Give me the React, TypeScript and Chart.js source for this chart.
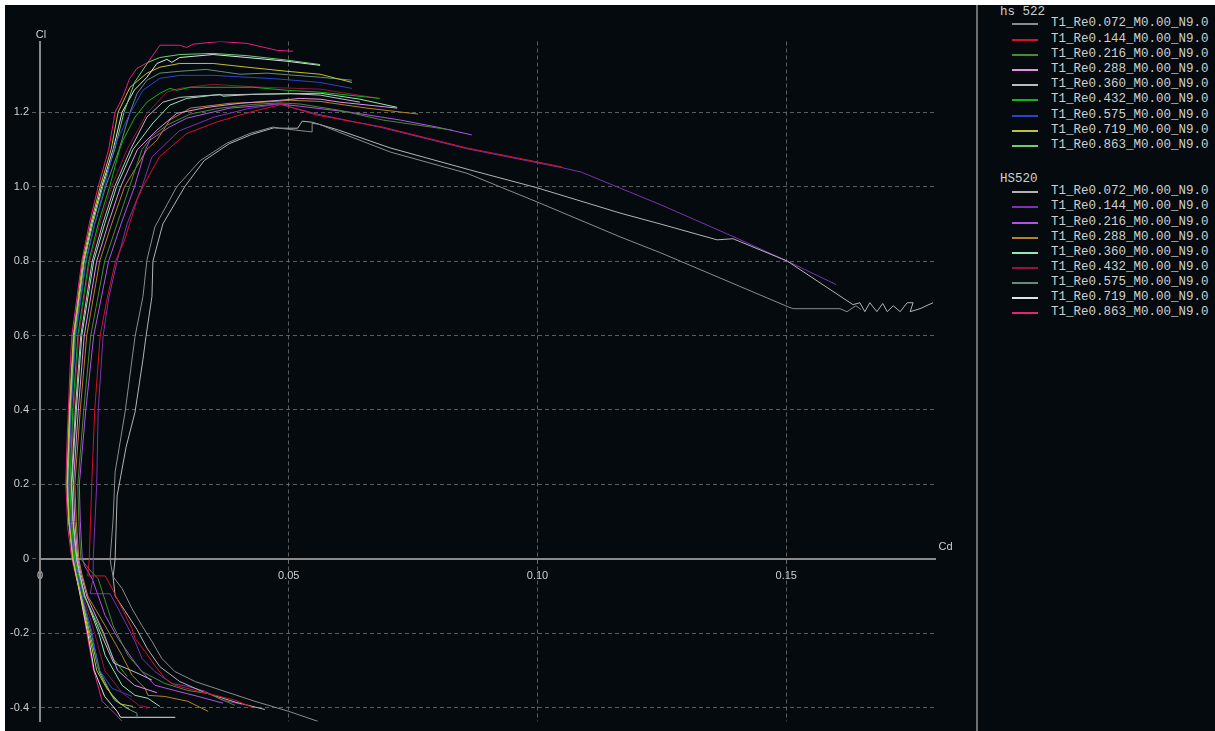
import React, { useEffect, useRef } from "react";
import { Chart, registerables } from "chart.js";

Chart.register(...registerables);

type P = [number, number];

// ---------- axis ranges & ticks ----------
const X_MIN = 0;
const X_MAX = 0.18;
const Y_MIN = -0.437;
const Y_MAX = 1.39;
const X_STEP = 0.05;
const Y_STEP = 0.2;

// ---------- legend ----------
const reynolds = ["0.072", "0.144", "0.216", "0.288", "0.360", "0.432", "0.575", "0.719", "0.863"];
const groupNames = ["hs 522", "HS520"];
const hs522Colors = ["#8c8c8c", "#d81028", "#4a8a32", "#e890e8", "#bcbcbc", "#14b414", "#2c44cc", "#c4c030", "#6cd06c"];
const hs520Colors = ["#b4b4b4", "#7a34b0", "#b452e6", "#b48424", "#90e8b4", "#96123c", "#6a8a7a", "#dce4ec", "#e6207c"];

// ---------- hs 522 polars (Cd, Cl) ----------
const hs522_Re0072: P[] = [
  [0.0559, -0.437], [0.05, -0.41], [0.0432, -0.383], [0.0366, -0.354], [0.0312, -0.33], [0.0271, -0.303],
  [0.0245, -0.268], [0.0225, -0.222], [0.0205, -0.18], [0.0185, -0.134], [0.0165, -0.08], [0.0147, -0.048],
  [0.0143, -0.02], [0.0141, 0], [0.0147, 0.107], [0.0151, 0.233], [0.0171, 0.394], [0.0191, 0.597],
  [0.0207, 0.705], [0.0215, 0.803], [0.0231, 0.892], [0.0275, 1.0], [0.0322, 1.07], [0.0376, 1.117],
  [0.0422, 1.143], [0.0468, 1.16], [0.0482, 1.157], [0.0513, 1.152], [0.0547, 1.147], [0.0547, 1.17],
  [0.056, 1.168], [0.0617, 1.138], [0.0704, 1.093], [0.0858, 1.036], [0.0999, 0.959], [0.1166, 0.865],
  [0.1246, 0.823], [0.1502, 0.678], [0.1514, 0.672], [0.1608, 0.672], [0.1622, 0.664], [0.164, 0.68], [0.165, 0.67],
];
const hs522_Re0144: P[] = [
  [0.0426, -0.399], [0.0392, -0.38], [0.0338, -0.362], [0.0312, -0.354], [0.0271, -0.34], [0.0251, -0.321],
  [0.0231, -0.287], [0.0211, -0.249], [0.0191, -0.214], [0.0185, -0.188], [0.0165, -0.134], [0.0145, -0.08],
  [0.0131, -0.046], [0.0096, -0.046], [0.0099, 0], [0.0104, 0.2], [0.011, 0.4], [0.0121, 0.6], [0.0135, 0.7],
  [0.0152, 0.8], [0.017, 0.857], [0.0195, 0.964], [0.0207, 1.0], [0.024, 1.08], [0.0295, 1.143],
  [0.0356, 1.174], [0.0422, 1.2], [0.0486, 1.221], [0.0557, 1.192], [0.0689, 1.16], [0.0858, 1.104],
  [0.096, 1.077], [0.1049, 1.053],
];
const hs522_Re0216: P[] = [
  [0.0392, -0.394], [0.0338, -0.362], [0.0297, -0.354], [0.0251, -0.335], [0.0205, -0.303], [0.0177, -0.26],
  [0.0147, -0.18], [0.0117, -0.054], [0.01, -0.03], [0.0082, 0], [0.0078, 0.1], [0.0076, 0.2], [0.0088, 0.4],
  [0.0102, 0.6], [0.013, 0.8], [0.0155, 0.9], [0.018, 1.0], [0.0205, 1.1], [0.0225, 1.135], [0.0255, 1.165],
  [0.0302, 1.195], [0.0362, 1.211], [0.0428, 1.221], [0.0482, 1.225], [0.0523, 1.222], [0.0603, 1.205],
  [0.0689, 1.179], [0.0828, 1.152],
];
const hs522_Re0288: P[] = [
  [0.0235, -0.36], [0.019, -0.34], [0.0156, -0.3], [0.0128, -0.2], [0.0094, -0.1], [0.0082, -0.04], [0.0076, 0],
  [0.007, 0.1], [0.0067, 0.2], [0.0077, 0.4], [0.0089, 0.6], [0.0114, 0.8], [0.0137, 0.9], [0.0162, 1.0],
  [0.0196, 1.1], [0.0235, 1.152], [0.0275, 1.197], [0.0336, 1.213], [0.0402, 1.224], [0.0482, 1.232],
  [0.0523, 1.237], [0.0563, 1.235], [0.0603, 1.227], [0.0718, 1.211],
];
const hs522_Re0360: P[] = [
  [0.0225, -0.326], [0.0197, -0.308], [0.0148, -0.28], [0.0122, -0.2], [0.009, -0.1], [0.0079, -0.04],
  [0.0073, 0], [0.0066, 0.1], [0.0063, 0.2], [0.0071, 0.4], [0.0082, 0.6], [0.0105, 0.8], [0.0126, 0.9],
  [0.015, 1.0], [0.0182, 1.1], [0.0215, 1.187], [0.0247, 1.227], [0.0281, 1.24], [0.0348, 1.246],
  [0.0416, 1.248], [0.0502, 1.25], [0.0563, 1.246], [0.0643, 1.227],
];
const hs522_Re0432: P[] = [
  [0.0175, -0.316], [0.0147, -0.268], [0.0125, -0.196], [0.0088, -0.1], [0.0077, -0.04], [0.007, 0],
  [0.0063, 0.1], [0.006, 0.2], [0.0066, 0.4], [0.0076, 0.6], [0.0098, 0.8], [0.0117, 0.9], [0.014, 1.0],
  [0.016, 1.1], [0.0167, 1.125], [0.0191, 1.187], [0.0215, 1.227], [0.0241, 1.251], [0.0261, 1.264],
  [0.0275, 1.259], [0.0302, 1.267], [0.0362, 1.267], [0.0428, 1.267], [0.0496, 1.259], [0.0563, 1.254],
  [0.0683, 1.237],
];
const hs522_Re0575: P[] = [
  [0.0185, -0.37], [0.0145, -0.348], [0.0117, -0.295], [0.0105, -0.2], [0.0085, -0.1], [0.0075, -0.04],
  [0.0069, 0], [0.0061, 0.1], [0.0058, 0.2], [0.0063, 0.4], [0.0072, 0.6], [0.0093, 0.8], [0.011, 0.9],
  [0.013, 1.0], [0.0148, 1.1], [0.0155, 1.125], [0.0181, 1.197], [0.0207, 1.259], [0.0241, 1.291],
  [0.0281, 1.299], [0.0348, 1.299], [0.0416, 1.294], [0.0482, 1.289], [0.0563, 1.28], [0.0627, 1.264],
];
const hs522_Re0719: P[] = [
  [0.0187, -0.397], [0.0161, -0.39], [0.0135, -0.35], [0.0114, -0.3], [0.0098, -0.2], [0.0082, -0.1],
  [0.0072, -0.04], [0.0066, 0], [0.0058, 0.1], [0.0054, 0.2], [0.0059, 0.4], [0.0067, 0.6], [0.0086, 0.8],
  [0.0102, 0.9], [0.0121, 1.0], [0.0143, 1.1], [0.0157, 1.2], [0.0181, 1.267], [0.0215, 1.305],
  [0.0241, 1.321], [0.0281, 1.331], [0.0348, 1.331], [0.0416, 1.321], [0.0496, 1.31], [0.0563, 1.302],
  [0.0627, 1.28],
];
const hs522_Re0863: P[] = [
  [0.018, -0.405], [0.015, -0.38], [0.0128, -0.33], [0.0118, -0.3], [0.01, -0.2], [0.0083, -0.1],
  [0.0073, -0.04], [0.0067, 0], [0.0059, 0.1], [0.0056, 0.2], [0.0061, 0.4], [0.0069, 0.6], [0.0089, 0.8],
  [0.0106, 0.9], [0.0126, 1.0], [0.015, 1.1], [0.0169, 1.2], [0.019, 1.28], [0.0217, 1.334], [0.0241, 1.347],
  [0.0281, 1.355], [0.0348, 1.358], [0.0416, 1.352], [0.0496, 1.34], [0.0563, 1.328],
];

// ---------- HS520 polars (Cd, Cl) ----------
const hs520_Re0072: P[] = [
  [0.0452, -0.405], [0.0392, -0.385], [0.0332, -0.36], [0.0281, -0.33], [0.0241, -0.29], [0.0215, -0.24],
  [0.0195, -0.19], [0.0171, -0.14], [0.0151, -0.1], [0.0147, -0.05], [0.0151, 0], [0.0155, 0.169],
  [0.0173, 0.3], [0.0191, 0.394], [0.0207, 0.536], [0.0213, 0.597], [0.0225, 0.705], [0.0227, 0.8],
  [0.0247, 0.9], [0.0291, 1.0], [0.033, 1.07], [0.038, 1.115], [0.0425, 1.14], [0.047, 1.158], [0.0482, 1.157],
  [0.0518, 1.157], [0.0527, 1.176], [0.0547, 1.173], [0.06, 1.152], [0.0704, 1.104], [0.0864, 1.045],
  [0.0999, 0.997], [0.1166, 0.929], [0.1246, 0.9], [0.1361, 0.857], [0.1393, 0.86], [0.1502, 0.8],
  [0.1634, 0.683], [0.1648, 0.688], [0.1658, 0.664], [0.1668, 0.688], [0.1682, 0.664], [0.1694, 0.686],
  [0.1703, 0.664], [0.1715, 0.68], [0.1729, 0.664], [0.1743, 0.688], [0.1755, 0.688], [0.1749, 0.664],
  [0.1769, 0.672], [0.1795, 0.688],
];
const hs520_Re0144: P[] = [
  [0.0406, -0.391], [0.0366, -0.38], [0.0332, -0.356], [0.0297, -0.343], [0.0265, -0.335], [0.0231, -0.303],
  [0.0205, -0.268], [0.0191, -0.222], [0.0175, -0.18], [0.0157, -0.134], [0.0141, -0.094], [0.0101, -0.094],
  [0.0107, -0.05], [0.0107, 0], [0.0114, 0.2], [0.0117, 0.4], [0.0127, 0.6], [0.0138, 0.7], [0.0155, 0.8],
  [0.0175, 0.9], [0.0205, 1.0], [0.0225, 1.08], [0.028, 1.15], [0.035, 1.187], [0.042, 1.21], [0.048, 1.222],
  [0.0557, 1.195], [0.0689, 1.158], [0.0858, 1.102], [0.1049, 1.051], [0.1088, 1.039], [0.125, 0.95],
  [0.1393, 0.866], [0.1502, 0.8], [0.16, 0.737],
];
const hs520_Re0216: P[] = [
  [0.0368, -0.388], [0.0318, -0.37], [0.0271, -0.354], [0.0231, -0.34], [0.0205, -0.303], [0.0185, -0.268],
  [0.0157, -0.214], [0.0131, -0.153], [0.0105, -0.054], [0.009, -0.02], [0.0085, 0], [0.0081, 0.1],
  [0.0079, 0.2], [0.0092, 0.4], [0.0108, 0.6], [0.0138, 0.8], [0.0163, 0.9], [0.019, 1.0], [0.0212, 1.1],
  [0.0221, 1.125], [0.026, 1.16], [0.0295, 1.184], [0.0382, 1.211], [0.0482, 1.222], [0.0523, 1.216],
  [0.0623, 1.2], [0.0724, 1.179], [0.0798, 1.16], [0.0868, 1.139],
];
const hs520_Re0288: P[] = [
  [0.0338, -0.41], [0.0297, -0.383], [0.0251, -0.37], [0.0217, -0.367], [0.0211, -0.348], [0.0185, -0.313],
  [0.0165, -0.26], [0.0131, -0.18], [0.0096, -0.1], [0.0084, -0.04], [0.0078, 0], [0.0073, 0.1], [0.007, 0.2],
  [0.0081, 0.4], [0.0094, 0.6], [0.012, 0.8], [0.0144, 0.9], [0.017, 1.0], [0.0215, 1.1], [0.0235, 1.125],
  [0.0261, 1.179], [0.0302, 1.211], [0.0382, 1.224], [0.0448, 1.227], [0.0503, 1.232], [0.0563, 1.229],
  [0.0657, 1.211], [0.076, 1.195],
];
const hs520_Re0360: P[] = [
  [0.0241, -0.397], [0.0217, -0.375], [0.0191, -0.367], [0.0165, -0.34], [0.0131, -0.26], [0.0118, -0.2],
  [0.009, -0.1], [0.008, -0.04], [0.0074, 0], [0.0067, 0.1], [0.0064, 0.2], [0.0073, 0.4], [0.0084, 0.6],
  [0.0108, 0.8], [0.013, 0.9], [0.0154, 1.0], [0.0187, 1.1], [0.0227, 1.171], [0.0261, 1.219],
  [0.0295, 1.237], [0.0362, 1.248], [0.0368, 1.243], [0.0428, 1.248], [0.0563, 1.251], [0.0643, 1.235],
  [0.0718, 1.213],
];
const hs520_Re0432: P[] = [
  [0.0215, -0.405], [0.0215, -0.398], [0.02, -0.395], [0.0165, -0.36], [0.013, -0.3], [0.011, -0.2],
  [0.0087, -0.1], [0.0077, -0.04], [0.0071, 0], [0.0064, 0.1], [0.0061, 0.2], [0.0068, 0.4], [0.0078, 0.6],
  [0.01, 0.8], [0.012, 0.9], [0.0144, 1.0], [0.0175, 1.1], [0.0215, 1.197], [0.0255, 1.254], [0.0281, 1.264],
  [0.0348, 1.275], [0.0382, 1.272], [0.0448, 1.267], [0.0563, 1.262], [0.0683, 1.237],
];
const hs520_Re0575: P[] = [
  [0.0195, -0.429], [0.0195, -0.415], [0.0172, -0.4], [0.0145, -0.37], [0.012, -0.3], [0.0103, -0.2],
  [0.0084, -0.1], [0.0074, -0.04], [0.0068, 0], [0.006, 0.1], [0.0057, 0.2], [0.0062, 0.4], [0.0071, 0.6],
  [0.0092, 0.8], [0.011, 0.9], [0.0132, 1.0], [0.0159, 1.1], [0.0181, 1.2], [0.0195, 1.25], [0.0215, 1.286],
  [0.0241, 1.305], [0.0281, 1.31], [0.0334, 1.315], [0.0376, 1.307], [0.0402, 1.302], [0.0456, 1.305],
  [0.0563, 1.294], [0.0627, 1.286],
];
const hs520_Re0719: P[] = [
  [0.0272, -0.426], [0.0162, -0.426], [0.0155, -0.41], [0.013, -0.37], [0.0109, -0.3], [0.0096, -0.2],
  [0.0081, -0.1], [0.0072, -0.04], [0.0066, 0], [0.0058, 0.1], [0.0055, 0.2], [0.006, 0.4], [0.0068, 0.6],
  [0.0088, 0.8], [0.0104, 0.9], [0.0124, 1.0], [0.0147, 1.1], [0.0165, 1.2], [0.019, 1.26], [0.0215, 1.294],
  [0.0235, 1.331], [0.0255, 1.342], [0.0265, 1.334], [0.0281, 1.347], [0.0348, 1.355], [0.0416, 1.347],
  [0.0496, 1.337], [0.0563, 1.326],
];
const hs520_Re0863: P[] = [
  [0.0165, -0.437], [0.015, -0.415], [0.0125, -0.383], [0.0107, -0.295], [0.0095, -0.206], [0.008, -0.089],
  [0.007, -0.035], [0.0064, 0], [0.0056, 0.08], [0.0052, 0.2], [0.0054, 0.3], [0.0057, 0.4], [0.006, 0.5],
  [0.0064, 0.6], [0.0074, 0.7], [0.0084, 0.8], [0.0099, 0.9], [0.0117, 1.0], [0.0138, 1.1], [0.0151, 1.2],
  [0.0166, 1.24], [0.018, 1.29], [0.0195, 1.318], [0.0217, 1.334], [0.0241, 1.38], [0.0281, 1.38],
  [0.0295, 1.374], [0.0308, 1.383], [0.0362, 1.39], [0.0416, 1.385], [0.0477, 1.366], [0.0509, 1.364],
];

const hs522Series = [hs522_Re0072, hs522_Re0144, hs522_Re0216, hs522_Re0288, hs522_Re0360, hs522_Re0432, hs522_Re0575, hs522_Re0719, hs522_Re0863];
const hs520Series = [hs520_Re0072, hs520_Re0144, hs520_Re0216, hs520_Re0288, hs520_Re0360, hs520_Re0432, hs520_Re0575, hs520_Re0719, hs520_Re0863];

const seriesLabel = (re: string) => `T1_Re${re}_M0.00_N9.0`;

const BG = "#040a0e";
const TEXT = "#d0d0d0";
const AXIS = "#8a8a8a";
const GRID = "rgba(120,120,120,0.75)";

const axisTitles = {
  id: "axisTitles",
  afterDraw(chart: any) {
    const { ctx, chartArea, scales } = chart;
    const x0 = scales.x.getPixelForValue(0);
    const y0 = scales.y.getPixelForValue(0);
    ctx.save();
    ctx.fillStyle = TEXT;
    ctx.font = "11px 'Liberation Sans', Arial, sans-serif";
    ctx.textAlign = "center";
    ctx.textBaseline = "middle";
    ctx.fillText("Cl", x0 + 1, chartArea.top - 7);
    ctx.fillText("Cd", chartArea.right + 10, y0 - 12);
    ctx.restore();
  },
};

export default function App() {
  const ref = useRef<HTMLCanvasElement | null>(null);

  useEffect(() => {
    if (!ref.current) return;
    const datasets: any[] = [];
    hs522Series.forEach((s, i) => {
      datasets.push({
        label: seriesLabel(reynolds[i]),
        data: s.map(([x, y]) => ({ x, y })),
        borderColor: hs522Colors[i],
        backgroundColor: hs522Colors[i],
      });
    });
    hs520Series.forEach((s, i) => {
      datasets.push({
        label: seriesLabel(reynolds[i]),
        data: s.map(([x, y]) => ({ x, y })),
        borderColor: hs520Colors[i],
        backgroundColor: hs520Colors[i],
      });
    });
    datasets.forEach((d) => {
      d.showLine = true;
      d.pointRadius = 0;
      d.borderWidth = 1;
      d.tension = 0;
      d.fill = false;
    });

    const tickFont = { family: "'Liberation Sans', Arial, sans-serif", size: 11 };
    const chart = new Chart(ref.current, {
      type: "scatter",
      data: { datasets },
      plugins: [axisTitles],
      options: {
        animation: false,
        responsive: false,
        maintainAspectRatio: false,
        layout: { padding: { left: 6, top: 41.5, right: 39.5, bottom: 7.5 } },
        plugins: { legend: { display: false }, tooltip: { enabled: false } },
        scales: {
          x: {
            type: "linear",
            min: X_MIN,
            max: X_MAX,
            position: { y: 0 } as any,
            ticks: {
              stepSize: X_STEP,
              includeBounds: false,
              color: TEXT,
              font: tickFont,
              padding: 7,
              maxRotation: 0,
              callback: (v: any) => (Number(v) === 0 ? "0" : Number(v).toFixed(2)),
            },
            grid: { color: GRID, lineWidth: 1, tickLength: 4, tickColor: GRID },
            border: { display: true, color: AXIS, width: 2, dash: [4, 3] },
          },
          y: {
            type: "linear",
            min: Y_MIN,
            max: Y_MAX,
            position: "left",
            afterFit: (s: any) => {
              s.width = 34;
            },
            ticks: {
              stepSize: Y_STEP,
              includeBounds: false,
              color: TEXT,
              font: tickFont,
              padding: 3,
              callback: (v: any) => (Math.abs(Number(v)) < 1e-9 ? "0" : Number(v).toFixed(1)),
            },
            grid: { color: GRID, lineWidth: 1, tickLength: 8, tickColor: GRID, tickBorderDash: [4, 3] } as any,
            border: { display: true, color: AXIS, width: 2, dash: [4, 3] },
          },
        },
      },
    });
    return () => chart.destroy();
  }, []);

  const groups = [
    { name: groupNames[0], colors: hs522Colors, headerY: 13.3, firstY: 24.3, step: 15.2 },
    { name: groupNames[1], colors: hs520Colors, headerY: 180, firstY: 192.3, step: 15.1 },
  ];
  const monoFont = "'Liberation Mono', 'DejaVu Sans Mono', monospace";

  return (
    <div style={{ position: "fixed", left: 0, top: 0, width: 1215, height: 731, background: "#ffffff", overflow: "hidden" }}>
      <div style={{ position: "absolute", left: 5, top: 5, right: 0, bottom: 0, background: BG }} />
      <canvas ref={ref} width={975} height={731} style={{ position: "absolute", left: 0, top: 0, width: 975, height: 731 }} />
      <div style={{ position: "absolute", left: 976, top: 5, width: 2, bottom: 0, background: "#6e6e6e" }} />
      {groups.map((g, gi) => (
        <React.Fragment key={gi}>
          <div
            style={{
              position: "absolute", left: 1000, top: g.headerY - 8, height: 16, lineHeight: "16px",
              font: `12.5px ${monoFont}`, color: TEXT, whiteSpace: "pre",
            }}
          >
            {g.name}
          </div>
          {reynolds.map((re, i) => {
            const cy = g.firstY + i * g.step;
            return (
              <React.Fragment key={i}>
                <div style={{ position: "absolute", left: 1012, top: cy - 1, width: 26, height: 2, background: g.colors[i] }} />
                <div
                  style={{
                    position: "absolute", left: 1051, top: cy - 8, height: 16, lineHeight: "16px",
                    font: `12.5px ${monoFont}`, color: TEXT, whiteSpace: "pre",
                  }}
                >
                  {seriesLabel(re)}
                </div>
              </React.Fragment>
            );
          })}
        </React.Fragment>
      ))}
    </div>
  );
}
